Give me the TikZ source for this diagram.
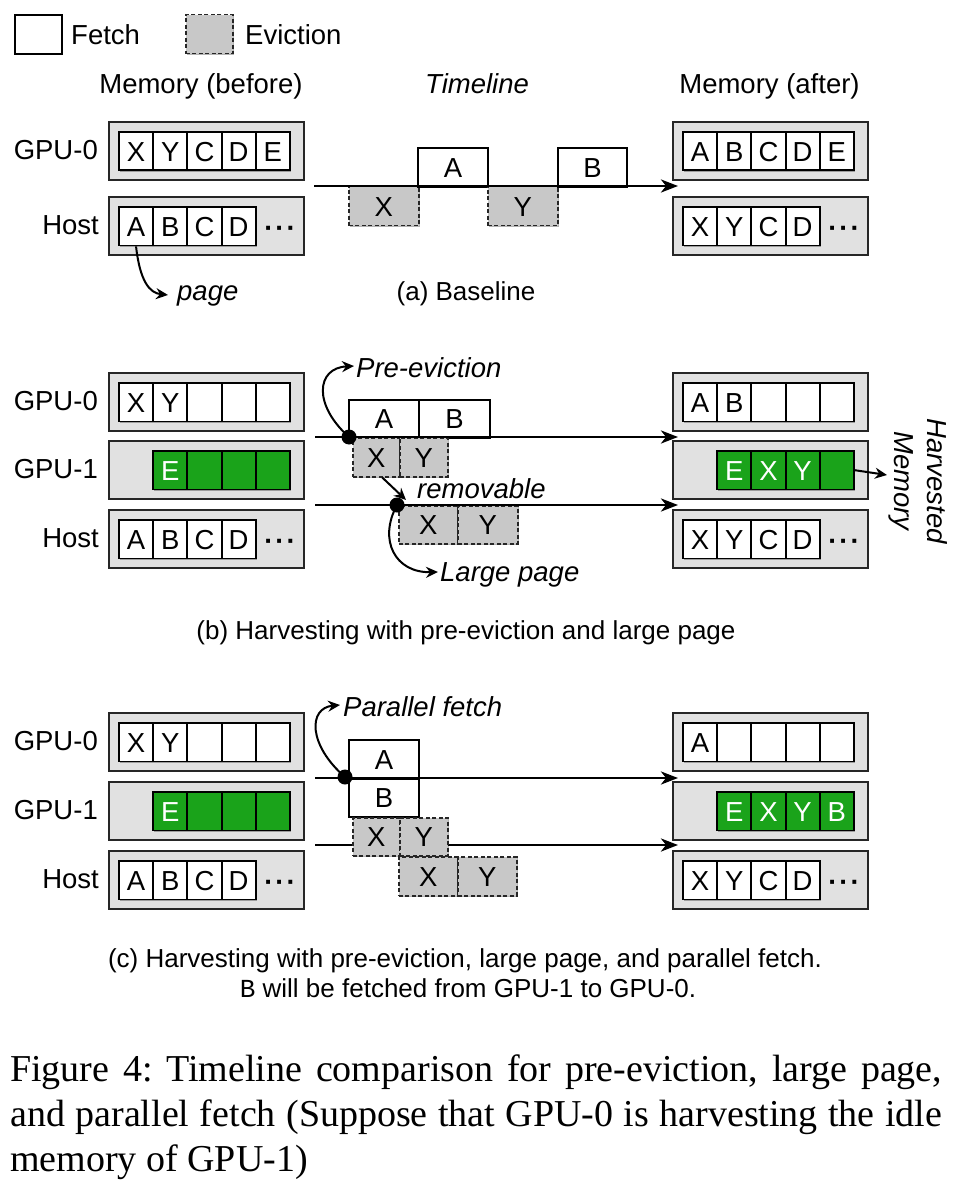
\documentclass[tikz,border=0pt]{standalone}
\usepackage{fontspec}
\setmainfont{Liberation Sans}
\newfontfamily\capfont{Liberation Serif}
\newfontfamily\monofont{Liberation Mono}
\usetikzlibrary{arrows.meta,shadows}
\definecolor{memgray}{RGB}{225,225,225}
\definecolor{evgray}{RGB}{200,200,200}
\definecolor{hgreen}{RGB}{26,163,26}
\newcommand\memrow[6]{% name, x, ytop, first index, cell style, cell list
  \node[membox, anchor=north west] (#1) at (#2,#3) {};
  \foreach \t [count=\i from 0] in {#6} {%
    \node[#5, anchor=north west] (#1-\i) at ({#2+10+(#4+\i)*34.2},{#3+10}) {\t};
  }%
}
\newcommand\mydots{·\kern2pt·\kern2pt·}
\frenchspacing
\begin{document}
\begin{tikzpicture}[x=1pt,y=-1pt,
  shd/.style={drop shadow={shadow xshift=1.3pt,shadow yshift=-1.3pt,opacity=0.3,fill=black}},
  lbl/.style={font=\fontsize{27.5}{33}\selectfont, inner sep=0pt, text height=19.7pt, text depth=0pt},
  ital/.style={font=\fontsize{27.5}{33}\selectfont\itshape, inner sep=0pt},
  sub/.style={font=\fontsize{26}{31}\selectfont, inner sep=0pt},
  capline/.style={font=\fontsize{38}{45}\selectfont\capfont, inner sep=0pt, anchor=base west},
  membox/.style={draw=black!85, fill=memgray, line width=1.6pt, minimum width=195pt, minimum height=58pt, inner sep=0pt, shd},
  cellbase/.style={draw=black, line width=1.9pt, minimum width=34.2pt, minimum height=38.5pt, inner sep=0pt,
     font=\fontsize{27.5}{33}\selectfont, text height=19.7pt, text depth=0pt, shd},
  wc/.style={cellbase, fill=white},
  gc/.style={cellbase, fill=hgreen, text=white},
  fetchbox/.style={draw=black, fill=white, line width=1.9pt, inner sep=0pt,
     font=\fontsize{27.5}{33}\selectfont, text height=19.7pt, text depth=0pt, shd},
  evictbox/.style={draw=black!85, fill=evgray, line width=1.5pt, dash pattern=on 4pt off 2.5pt, inner sep=0pt,
     font=\fontsize{27.5}{33}\selectfont, text height=19.7pt, text depth=0pt, shd},
  tl/.style={line width=2.8pt, -{Stealth[length=17pt,width=13pt,inset=5pt]}},
  ann/.style={line width=2pt, -{Stealth[length=12pt,width=11pt,inset=4pt]}},
  tdot/.style={circle, fill=black, inner sep=0pt, minimum size=15pt},
  dotsl/.style={inner sep=0pt, font=\fontsize{27.5}{33}\selectfont\bfseries, text height=19.7pt, text depth=0pt}
]
\fill[white] (0,0) rectangle (954,1190);
\useasboundingbox (0,0) rectangle (954,1190);

% ---------- legend ----------
\node[fetchbox, minimum width=47pt, minimum height=39pt, anchor=north west] (lg-f) at (14,14) {};
\node[lbl, anchor=base west, text height=, text depth=] (lg-ft) at (71,45) {Fetch};
\node[evictbox, minimum width=47pt, minimum height=39pt, anchor=north west] (lg-e) at (185,14) {};
\node[lbl, anchor=base west, text height=, text depth=] (lg-et) at (245,45) {Eviction};

% ---------- headers ----------
\node[lbl, anchor=base, text height=, text depth=] (h-before) at (201,94) {Memory (before)};
\node[ital, anchor=base] (h-time) at (477,94) {Timeline};
\node[lbl, anchor=base, text height=, text depth=] (h-after) at (769.5,94) {Memory (after)};

% ================= (a) =================
\node[lbl, anchor=east] (a-l0) at (98,150) {GPU-0};
\node[lbl, anchor=east] (a-lh) at (99,225) {Host};
\memrow{a-b0}{108}{121}{0}{wc}{X,Y,C,D,E}
\memrow{a-bh}{108}{196}{0}{wc}{A,B,C,D}
\node[dotsl] (a-bh-dots) at (280,228) {\mydots};
\memrow{a-a0}{672}{121}{0}{wc}{A,B,C,D,E}
\memrow{a-ah}{672}{196}{0}{wc}{X,Y,C,D}
\node[dotsl] (a-ah-dots) at (844,228) {\mydots};

\coordinate (a-t0) at (314,186);
\coordinate (a-t1) at (678,186);
\node[evictbox, minimum width=70pt, minimum height=39pt, anchor=north west] (a-x) at (348,186) {X};
\node[fetchbox, minimum width=70pt, minimum height=39pt, anchor=north west] (a-A) at (417,147) {A};
\node[evictbox, minimum width=70pt, minimum height=39pt, anchor=north west] (a-y) at (487,186) {Y};
\node[fetchbox, minimum width=69pt, minimum height=39pt, anchor=north west] (a-B) at (557,147) {B};
\draw[tl] (a-t0) -- (a-t1);

\node[ital, anchor=base west] (a-page) at (177,300) {page};
\coordinate (a-page-tip) at (168,295);
\draw[ann] (a-bh-0.south) .. controls (140,282) and (150,293) .. (a-page-tip);
\node[sub, anchor=base] (a-cap) at (466,300) {(a) Baseline};

% ================= (b) =================
\node[lbl, anchor=east] (b-l0) at (98,401) {GPU-0};
\node[lbl, anchor=east] (b-l1) at (98,469) {GPU-1};
\node[lbl, anchor=east] (b-lh) at (99,538) {Host};
\memrow{b-b0}{108}{372}{0}{wc}{X,Y,{},{},{}}
\memrow{b-b1}{108}{440}{1}{gc}{E,{},{},{}}
\memrow{b-bh}{108}{509}{0}{wc}{A,B,C,D}
\node[dotsl] (b-bh-dots) at (280,541) {\mydots};
\memrow{b-a0}{672}{372}{0}{wc}{A,B,{},{},{}}
\memrow{b-a1}{672}{440}{1}{gc}{E,X,Y,{}}
\memrow{b-ah}{672}{509}{0}{wc}{X,Y,C,D}
\node[dotsl] (b-ah-dots) at (844,541) {\mydots};

\coordinate (b-t0) at (315,437);
\coordinate (b-t1) at (678,437);
\coordinate (b-u0) at (315,505);
\coordinate (b-u1) at (678,505);
\node[fetchbox, minimum width=70pt, minimum height=38pt, anchor=north west] (b-A) at (348,399) {A};
\node[fetchbox, minimum width=71pt, minimum height=38pt, anchor=north west] (b-B) at (418,399) {B};
\node[evictbox, minimum width=47pt, minimum height=39pt, anchor=north west] (b-x1) at (352,437) {X};
\node[evictbox, minimum width=48pt, minimum height=39pt, anchor=north west] (b-y1) at (399,437) {Y};
\node[evictbox, minimum width=59pt, minimum height=38pt, anchor=north west] (b-x2) at (398,505) {X};
\node[evictbox, minimum width=60pt, minimum height=38pt, anchor=north west] (b-y2) at (457,505) {Y};
\draw[tl] (b-t0) -- (b-t1);
\draw[tl] (b-u0) -- (b-u1);
\node[tdot] (b-d1) at (349,437) {};
\node[tdot] (b-d2) at (397,505) {};

\node[ital, anchor=base west] (b-pre) at (356,377) {Pre-eviction};
\coordinate (b-pre-tip) at (354,366);
\draw[ann] (b-d1.center) .. controls (313,405) and (316,368) .. (b-pre-tip);
\node[ital, anchor=base west] (b-rem) at (417,498) {removable};
\coordinate (b-rem-tip) at (406,500);
\draw[ann] ([xshift=6pt]b-x1.south) -- (b-rem-tip);
\node[ital, anchor=base west] (b-large) at (440,581) {Large page};
\coordinate (b-large-tip) at (438,572);
\draw[ann] (b-d2.center) .. controls (378,540) and (395,573) .. (b-large-tip);

\coordinate (b-harv-tip) at (887,475);
\draw[ann] (b-a1-3.east) -- (b-harv-tip);
\node[ital, rotate=-90, align=center, font=\fontsize{27.5}{33}\selectfont\itshape] (b-harv) at (918,481) {Harvested\\Memory};

\node[sub, anchor=base] (b-cap) at (466,639) {(b) Harvesting with pre-eviction and large page};

% ================= (c) =================
\node[lbl, anchor=east] (c-l0) at (98,741) {GPU-0};
\node[lbl, anchor=east] (c-l1) at (98,810) {GPU-1};
\node[lbl, anchor=east] (c-lh) at (99,879) {Host};
\memrow{c-b0}{108}{712}{0}{wc}{X,Y,{},{},{}}
\memrow{c-b1}{108}{781}{1}{gc}{E,{},{},{}}
\memrow{c-bh}{108}{850}{0}{wc}{A,B,C,D}
\node[dotsl] (c-bh-dots) at (280,882) {\mydots};
\memrow{c-a0}{672}{712}{0}{wc}{A,{},{},{},{}}
\memrow{c-a1}{672}{781}{1}{gc}{E,X,Y,B}
\memrow{c-ah}{672}{850}{0}{wc}{X,Y,C,D}
\node[dotsl] (c-ah-dots) at (844,882) {\mydots};

\coordinate (c-t0) at (315,778);
\coordinate (c-t1) at (678,778);
\coordinate (c-u0) at (315,845);
\coordinate (c-u1) at (678,845);
\draw[tl] (c-u0) -- (c-u1);
\node[fetchbox, minimum width=70pt, minimum height=39pt, anchor=north west] (c-A) at (348,739) {A};
\node[fetchbox, minimum width=70pt, minimum height=38pt, anchor=north west] (c-B) at (348,778) {B};
\node[evictbox, minimum width=47pt, minimum height=38pt, anchor=north west] (c-x1) at (352,817) {X};
\node[evictbox, minimum width=48pt, minimum height=38pt, anchor=north west] (c-y1) at (399,817) {Y};
\node[evictbox, minimum width=59pt, minimum height=39pt, anchor=north west] (c-x2) at (398,856) {X};
\node[evictbox, minimum width=59pt, minimum height=39pt, anchor=north west] (c-y2) at (457,856) {Y};
\draw[tl] (c-t0) -- (c-t1);
\node[tdot] (c-d1) at (345,777) {};

\node[ital, anchor=base west] (c-par) at (343,716) {Parallel fetch};
\coordinate (c-par-tip) at (340,705);
\draw[ann] (c-d1.center) .. controls (308,745) and (308,708) .. (c-par-tip);

\node[sub, anchor=base] (c-cap1) at (465,967) {(c) Harvesting with pre-eviction, large page, and parallel fetch.};
\node[sub, anchor=base] (c-cap2) at (468,997) {{\monofont B} will be fetched from GPU-1 to GPU-0.};

% ---------- figure caption ----------
\node[capline] (cap1) at (10,1081) {\makebox[932pt][s]{Figure 4: Timeline comparison for pre-eviction, large page,}};
\node[capline] (cap2) at (10,1126) {\makebox[932pt][s]{and parallel fetch (Suppose that GPU-0 is harvesting the idle}};
\node[capline] (cap3) at (10,1171) {memory of GPU-1)};
\end{tikzpicture}
\end{document}
